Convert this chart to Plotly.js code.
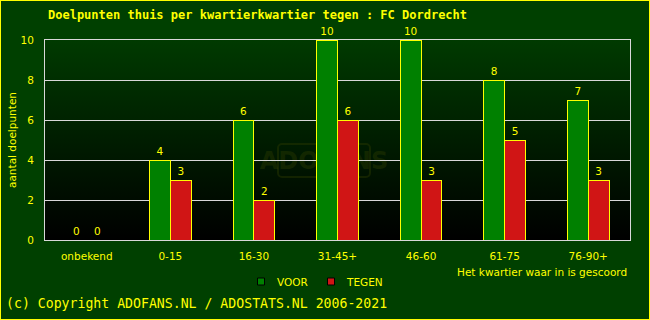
<!DOCTYPE html>
<html>
<head>
<meta charset="utf-8">
<script src="https://cdn.plot.ly/plotly-3.0.1.min.js"></script>
<style>
html,body{margin:0;padding:0;background:#004000;}
#wrap{position:relative;width:650px;height:320px;}
#chart{width:650px;height:320px;}
#frame{position:absolute;left:0;top:0;width:648px;height:318px;border:1px solid #ffff00;pointer-events:none;}
#chart .bars path{shape-rendering:crispEdges;}
</style>
</head>
<body>
<div id="wrap"><div id="chart"></div><div id="frame"></div></div>
<script>
var categories = ["onbekend", "0-15", "16-30", "31-45+", "46-60", "61-75", "76-90+"];
var voor = [0, 4, 6, 10, 10, 8, 7];
var tegen = [0, 3, 2, 6, 3, 5, 3];
var yTicks = [0, 2, 4, 6, 8, 10];
var seriesNames = ["VOOR", "TEGEN"];

var W = 650, H = 320;
var M = {l: 45, r: 20, t: 40, b: 80};
var PW = W - M.l - M.r, PH = H - M.t - M.b;
function px(x) { return (x - M.l) / PW; }
function py(y) { return 1 - (y - M.t) / PH; }

var Y = "#ffff00";
var font = {family: "DejaVu Sans, sans-serif", size: 10.5, color: Y};

var svg = '<svg xmlns="http://www.w3.org/2000/svg" width="' + PW + '" height="' + PH + '" preserveAspectRatio="none">' +
  '<defs><linearGradient id="g" x1="0" y1="0" x2="0" y2="1">' +
  '<stop offset="0" stop-color="#003a00"/><stop offset="1" stop-color="#000000"/></linearGradient></defs>' +
  '<rect width="' + PW + '" height="' + PH + '" fill="url(#g)"/>' +
  '<rect x="233" y="104" width="92" height="33" rx="4" fill="none" stroke="#2a3a00" stroke-opacity="0.45" stroke-width="2"/>' +
  '<text x="279" y="129" text-anchor="middle" font-family="DejaVu Sans" font-weight="bold" font-size="24" fill="#2a3a00" fill-opacity="0.45">ADOFANS</text>' +
  '</svg>';
var bgSrc = "data:image/svg+xml;base64," + btoa(svg);

function lineWidths(vals) { return vals.map(function (v) { return v === 0 ? 0 : 1; }); }

var traces = [
  {type: "bar", name: seriesNames[0], x: categories, y: voor,
   marker: {color: "#008000", line: {color: Y, width: lineWidths(voor)}},
   text: voor.map(String), textposition: "outside", cliponaxis: false,
   textfont: font, hoverinfo: "none", showlegend: false},
  {type: "bar", name: seriesNames[1], x: categories, y: tegen,
   marker: {color: "#d01515", line: {color: Y, width: lineWidths(tegen)}},
   text: tegen.map(String), textposition: "outside", cliponaxis: false,
   textfont: font, hoverinfo: "none", showlegend: false}
];

var layout = {
  width: W, height: H,
  margin: M,
  paper_bgcolor: "#004000",
  plot_bgcolor: "rgba(0,0,0,0)",
  barmode: "group",
  bargap: 0.5,
  bargroupgap: 0,
  showlegend: false,
  font: font,
  title: {text: "Doelpunten thuis per kwartierkwartier tegen : FC Dordrecht",
    font: {family: "DejaVu Sans Mono, monospace", size: 12, color: Y, weight: "bold"},
    xref: "container", yref: "container", x: 48 / W, xanchor: "left",
    y: 1 - 15 / H, yanchor: "middle"},
  xaxis: {type: "category", tickfont: font, showline: true, linecolor: "#d8d8d8", linewidth: 1,
    mirror: true, ticks: "", showgrid: false, fixedrange: true, ticklen: 0, ticklabelstandoff: 6},
  yaxis: {range: [0, 10], tickvals: yTicks, ticktext: yTicks.map(String), tickfont: font,
    showgrid: true, gridcolor: "#d8d8d8", gridwidth: 1, zeroline: false,
    showline: true, linecolor: "#d8d8d8", mirror: true, ticks: "", ticklen: 0, ticklabelstandoff: 8,
    title: {text: "aantal doelpunten", font: font, standoff: 1}},
  images: [{source: bgSrc, xref: "paper", yref: "paper", x: 0, y: 1, sizex: 1, sizey: 1,
    xanchor: "left", yanchor: "top", sizing: "stretch", layer: "below"}],
  shapes: [
    {type: "rect", xref: "paper", yref: "paper", x0: px(257.5), x1: px(264.5), y0: py(285), y1: py(278),
     fillcolor: "#008000", line: {color: "#000000", width: 1}},
    {type: "rect", xref: "paper", yref: "paper", x0: px(327.5), x1: px(334.5), y0: py(285), y1: py(278),
     fillcolor: "#d01515", line: {color: "#000000", width: 1}}
  ],
  annotations: [
    {text: seriesNames[0], xref: "paper", yref: "paper", x: px(275), y: py(281.5), xanchor: "left", yanchor: "middle", showarrow: false, font: font},
    {text: seriesNames[1], xref: "paper", yref: "paper", x: px(344), y: py(281.5), xanchor: "left", yanchor: "middle", showarrow: false, font: font},
    {text: "Het kwartier waar in is gescoord", xref: "paper", yref: "paper", x: px(629), y: py(272), xanchor: "right", yanchor: "middle", showarrow: false, font: font},
    {text: "(c) Copyright ADOFANS.NL / ADOSTATS.NL 2006-2021", xref: "paper", yref: "paper", x: px(4), y: py(303), xanchor: "left", yanchor: "middle", showarrow: false,
     font: {family: "DejaVu Sans Mono, monospace", size: 13.2, color: Y}}
  ]
};

Plotly.newPlot("chart", traces, layout, {displayModeBar: false, staticPlot: true});
</script>
</body>
</html>
